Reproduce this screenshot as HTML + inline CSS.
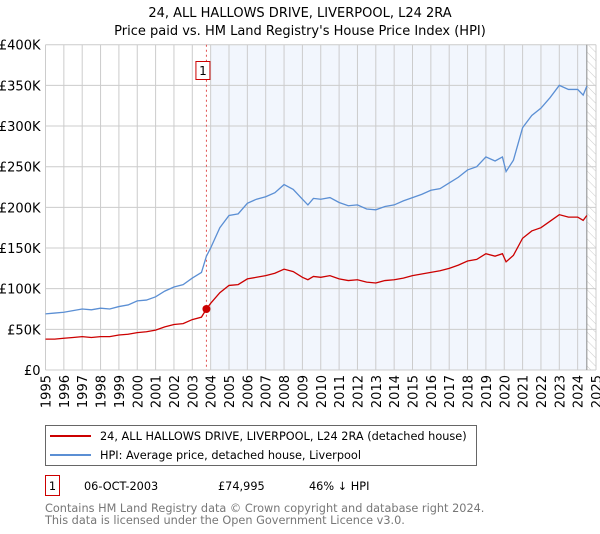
<!DOCTYPE html>
<html><head><meta charset="utf-8"><style>
body{margin:0;background:#fff;width:600px;height:530px;overflow:hidden;font-family:"DejaVu Sans","Liberation Sans",sans-serif;}
svg text{font-family:"DejaVu Sans","Liberation Sans",sans-serif;}
</style></head><body>
<svg id="chart" width="600" height="530" xmlns="http://www.w3.org/2000/svg">
<defs><pattern id="hatch" width="6" height="6" patternUnits="userSpaceOnUse" patternTransform="rotate(-45)"><line x1="0" y1="0" x2="0" y2="6" stroke="#ccc" stroke-width="1"/></pattern></defs>
<text x="300" y="17" text-anchor="middle" font-size="13">24, ALL HALLOWS DRIVE, LIVERPOOL, L24 2RA</text>
<text x="300" y="35" text-anchor="middle" font-size="13">Price paid vs. HM Land Registry's House Price Index (HPI)</text>
<g id="plot"></g>
<rect x="45.5" y="425.5" width="431" height="40" fill="#fff" stroke="#666"/>
<line x1="50" y1="436" x2="91" y2="436" stroke="#cc0000" stroke-width="2"/>
<text x="100" y="440" font-size="11.3">24, ALL HALLOWS DRIVE, LIVERPOOL, L24 2RA (detached house)</text>
<line x1="50" y1="455" x2="91" y2="455" stroke="#5b8fd4" stroke-width="2"/>
<text x="100" y="459" font-size="11.3">HPI: Average price, detached house, Liverpool</text>
<rect x="45.5" y="475.5" width="14" height="20" fill="#fff" stroke="#cc0000"/>
<text x="52.5" y="490" text-anchor="middle" font-size="11.3">1</text>
<text x="84" y="490" font-size="11.3">06-OCT-2003</text>
<text x="218" y="490" font-size="11.3">£74,995</text>
<text x="309" y="490" font-size="11.3">46% ↓ HPI</text>
<text x="45" y="512" font-size="11.3" fill="#777">Contains HM Land Registry data © Crown copyright and database right 2024.</text>
<text x="45" y="524" font-size="11.3" fill="#777">This data is licensed under the Open Government Licence v3.0.</text>
</svg>
<script>
const years=[1995,1995.5,1996,1996.5,1997,1997.5,1998,1998.5,1999,1999.5,2000,2000.5,2001,2001.5,2002,2002.5,2003,2003.5,2003.77,2004,2004.5,2005,2005.5,2006,2006.5,2007,2007.5,2008,2008.5,2009,2009.3,2009.6,2010,2010.5,2011,2011.5,2012,2012.5,2013,2013.5,2014,2014.5,2015,2015.5,2016,2016.5,2017,2017.5,2018,2018.5,2019,2019.5,2019.9,2020.1,2020.5,2021,2021.5,2022,2022.5,2023,2023.5,2024,2024.3,2024.5];
const hpiValues=[69,70,71,73,75,74,76,75,78,80,85,86,90,97,102,105,113,120,140,150,175,190,192,205,210,213,218,228,222,210,203,211,210,212,206,202,203,198,197,201,203,208,212,216,221,223,230,237,246,250,262,257,262,244,258,298,313,322,335,350,345,345,338,349];
const propertyValues=[38,38,39,40,41,40,41,41,43,44,46,47,49,53,56,57,62,65,75,82,95,104,105,112,114,116,119,124,121,114,111,115,114,116,112,110,111,108,107,110,111,113,116,118,120,122,125,129,134,136,143,140,143,133,141,162,171,175,183,191,188,188,184,190];
const yTicks=[0,50,100,150,200,250,300,350,400];
const yTickLabels=["£0","£50K","£100K","£150K","£200K","£250K","£300K","£350K","£400K"];
const xTicks=[1995,1996,1997,1998,1999,2000,2001,2002,2003,2004,2005,2006,2007,2008,2009,2010,2011,2012,2013,2014,2015,2016,2017,2018,2019,2020,2021,2022,2023,2024,2025];
const saleYear=2003.77, salePrice=74.995;
const L=45.5,R=596,T=44.7,B=370;
const x=v=>L+(v-1995)/30*(R-L);
const y=v=>B-v/400*(B-T);
const NS="http://www.w3.org/2000/svg";
const g=document.getElementById('plot');
function mk(t,a){const e=document.createElementNS(NS,t);for(const k in a)e.setAttribute(k,a[k]);g.appendChild(e);return e;}
let e;
e=mk('rect',{x:x(2004),y:T,width:x(2024.5)-x(2004),height:B-T,fill:'#f2f6fd'});


e=mk('rect',{x:x(2024.5),y:T,width:R-x(2024.5),height:B-T,fill:'url(#hatch)'});


yTicks.forEach((t,i)=>{
 e=mk('line',{x1:L,x2:R,y1:y(t),y2:y(t),stroke:'#ccc'});
 
 
 e=mk('text',{x:L-5,y:y(t)+5,'text-anchor':'end','font-size':'13'});e.textContent=yTickLabels[i];
 
 
});
xTicks.forEach(t=>{
 e=mk('line',{x1:x(t),x2:x(t),y1:T,y2:B,stroke:'#ccc'});
 
 
 e=mk('text',{x:0,y:0,'font-size':'13','text-anchor':'end',transform:`translate(${x(t)+5},${B+5}) rotate(-90)`});e.textContent=t;
 
 
});
e=mk('line',{x1:x(2024.5),x2:x(2024.5),y1:T,y2:B,stroke:'#888'});


e=mk('line',{x1:x(saleYear),x2:x(saleYear),y1:T,y2:B,stroke:'#e05050','stroke-dasharray':'2,3'});


e=mk('polyline',{points:years.map((v,i)=>x(v)+','+y(hpiValues[i])).join(' '),fill:'none',stroke:'#5b8fd4','stroke-width':'1.3'});


e=mk('polyline',{points:years.map((v,i)=>x(v)+','+y(propertyValues[i])).join(' '),fill:'none',stroke:'#cc0000','stroke-width':'1.3'});


e=mk('circle',{cx:x(saleYear),cy:y(salePrice),r:4,fill:'#cc0000'});


e=mk('rect',{x:x(saleYear)-10.5,y:61.5,width:14,height:18,fill:'#fff',stroke:'#cc0000'});


e=mk('text',{x:x(saleYear)-3.5,y:75,'text-anchor':'middle','font-size':'12'});e.textContent='1';


</script>
</body></html>
